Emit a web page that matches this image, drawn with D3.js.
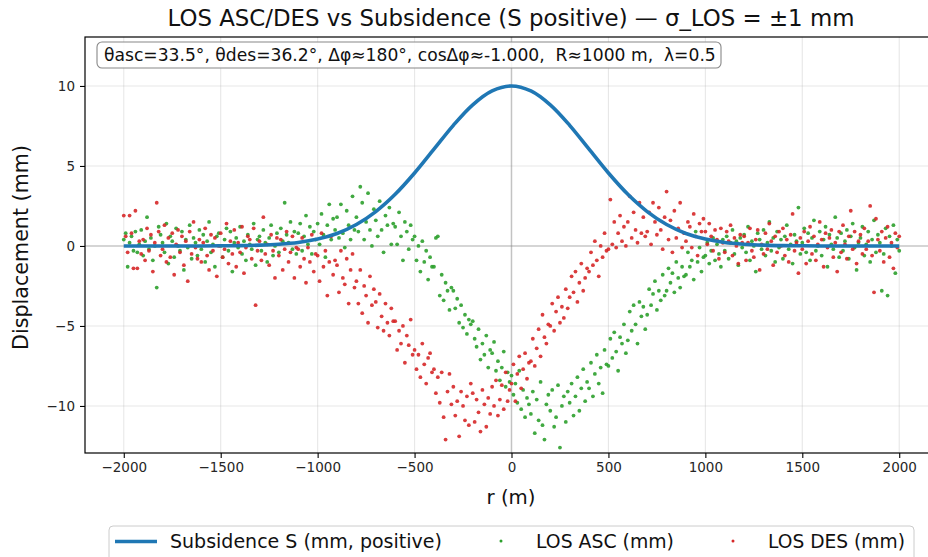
<!DOCTYPE html>
<html><head><meta charset="utf-8">
<script src="https://cdn.jsdelivr.net/npm/d3@7"></script>
<style>body{margin:0;background:#fff;} svg{display:block;font-family:"DejaVu Sans",sans-serif;}</style>
</head><body><svg id="c" width="928" height="557"></svg>
<script>
// ---- data ----
const titleText = "LOS ASC/DES vs Subsidence (S positive) — σ_LOS = ±1 mm";
const annotText = "θasc=33.5°, θdes=36.2°, Δφ≈180°, cosΔφ≈-1.000,  R≈1000 m,  λ=0.5";
const xTicks = [-2000,-1500,-1000,-500,0,500,1000,1500,2000];
const yTicks = [-10,-5,0,5,10];
const seriesNames = ["Subsidence S (mm, positive)", "LOS ASC (mm)", "LOS DES (mm)"];

// subsidence curve, r = -2000..2000 every 100 m
const rCurve = d3.range(-2000, 2001, 100);
const subsidence = [0,0,0,0,0,0.01,0.02,0.05,0.11,0.22,0.43,0.78,1.34,2.15,3.23,4.56,6.05,7.54,8.82,9.69,10,
  9.69,8.82,7.54,6.05,4.56,3.23,2.15,1.34,0.78,0.43,0.22,0.11,0.05,0.02,0.01,0,0,0,0,0];

// LOS samples, r = -2000..2000 every 10 m
const rPts = d3.range(-2000, 2001, 10);
const losAsc = [
0.4,0.8,-1.3,0.2,0.6,-0.3,0.9,-0.4,0.1,1.0,
-0.6,0.3,1.8,-0.2,0.5,-0.9,0.0,-2.6,1.2,0.7,
0.2,-0.4,1.4,-1.1,0.6,0.3,-0.7,1.1,0.0,-0.3,
0.9,-1.5,0.4,-0.1,1.3,-0.8,0.5,0.2,-0.6,1.0,
-0.2,0.7,-1.0,0.3,1.5,-0.4,0.1,-1.3,0.6,0.8,
0.0,-0.7,0.4,1.1,-0.3,0.9,-1.6,0.2,0.5,-0.1,
1.2,-0.5,0.3,-0.9,0.7,0.1,-0.2,1.4,-1.2,0.4,
0.6,-0.3,1.0,0.2,-1.0,0.5,1.3,-0.6,0.0,0.8,
-0.4,1.1,0.3,2.7,0.7,0.2,1.5,-0.2,0.9,-0.5,
0.8,1.4,-0.3,0.6,1.9,0.1,1.2,-0.5,0.9,0.4,
1.4,0.1,2.0,0.7,-0.7,1.3,2.6,0.4,1.7,1.0,
1.8,0.5,2.6,0.8,-0.1,2.2,1.3,0.4,3.1,1.0,
1.8,0.9,3.7,2.7,0.4,1.5,3.3,1.0,0.0,2.3,
1.6,0.6,2.8,1.0,-0.4,1.9,1.3,2.4,0.1,1.4,
1.2,0.1,2.1,0.6,-0.9,1.5,0.9,-0.2,1.3,0.4,
0.6,-0.9,0.0,-1.6,0.3,-1.0,-0.3,-2.1,-0.7,-1.3,
-1.3,0.5,0.6,-3.1,-1.8,-3.4,-2.3,-2.8,-4.0,-2.6,
-2.8,-3.9,-3.3,-4.8,-3.7,-5.1,-4.3,-5.5,-4.6,-4.9,
-4.7,-5.8,-6.3,-5.2,-7.1,-6.1,-6.8,-5.6,-7.6,-6.5,
-6.7,-6.0,-7.8,-7.2,-8.4,-7.6,-6.6,-8.8,-7.9,-8.5,
-8.1,-9.3,-8.6,-9.8,-7.8,-10.2,-9.0,-10.7,-9.5,-9.9,
-10.5,-9.1,-11.7,-9.6,-10.9,-8.5,-11.2,-12.1,-9.9,-9.3,
-10.3,-9.0,-11.3,-10.7,-8.7,-12.6,-10.0,-9.4,-11.0,-9.1,
-9.8,-8.6,-10.6,-9.4,-8.2,-10.3,-8.9,-7.7,-9.7,-8.5,
-8.9,-7.3,-9.4,-8.0,-6.8,-8.6,-7.6,-9.2,-6.5,-7.4,
-7.5,-5.8,-7.0,-5.4,-6.6,-7.8,-5.7,-6.1,-4.9,-6.7,
-5.9,-4.1,-5.3,-3.7,-4.9,-6.1,-3.5,-4.4,-3.8,-5.2,
-4.3,-2.7,-3.7,-3.0,-2.2,-4.0,-2.8,-3.4,-1.8,-3.1,
-2.8,-1.4,-2.3,-1.7,-2.9,-1.0,-2.0,-2.6,-1.3,-1.9,
-1.8,-0.4,-1.3,-0.9,-2.1,0.9,-1.0,-0.1,-1.6,-0.7,
-0.6,0.2,-1.1,-0.3,0.5,-0.9,0.1,-0.5,-1.3,0.4,
-0.3,0.6,-0.8,0.2,1.0,-0.5,0.3,-1.2,0.5,-0.1,
0.7,-0.4,1.2,-0.9,0.3,0.0,-1.6,0.8,0.4,-0.2,
1.0,-0.6,0.2,1.5,-0.3,0.5,-1.0,0.9,-0.1,0.4,
-0.8,0.6,1.3,-0.2,0.1,-1.1,0.7,0.3,2.4,-0.5,
0.2,1.1,-0.4,0.8,-0.9,0.5,1.6,-0.3,0.0,0.9,
-0.6,0.4,1.2,-1.3,0.7,0.1,-0.2,1.8,0.5,-0.7,
0.8,-0.3,0.3,1.0,-0.8,0.6,1.4,-0.1,-1.5,0.2,
0.5,1.2,-0.6,0.1,0.9,-1.0,0.4,1.6,-0.4,0.7,
0.2,-2.8,-0.5,1.1,-3.1,0.6,0.0,1.3,-1.7,0.4,
-0.3];
const losDes = [
1.9,0.6,-0.4,1.9,0.8,-1.4,2.2,-1.4,0.3,-0.5,
0.4,-0.9,1.1,-0.3,0.7,-1.6,0.2,2.7,0.9,-0.6,
-0.2,1.3,-1.0,0.5,-0.7,0.8,-1.8,0.1,1.0,-0.4,
0.6,-1.2,0.3,-2.2,0.9,-0.5,1.5,-0.1,-0.8,0.4,
-1.0,0.2,1.1,-0.6,-1.5,0.7,-0.3,0.5,-1.9,0.0,
0.8,-0.7,-0.2,1.4,-1.1,0.3,-0.5,1.0,-1.3,0.2,
-0.4,1.2,-1.7,-0.1,0.6,0.4,-0.8,1.1,-3.7,-0.3,
0.3,-0.9,1.8,-0.5,0.1,-1.2,0.7,-0.3,-2.0,0.5,
-0.6,0.4,-1.5,-0.2,0.9,-1.0,-0.4,0.6,-2.0,-0.1,
-0.2,-1.3,0.5,-0.8,-2.3,-0.1,-1.0,0.7,-1.6,-0.5,
-0.6,-2.2,0.8,-1.3,-0.3,-3.1,-1.0,0.6,-1.8,-0.9,
-1.2,-2.9,-0.3,-2.0,-2.4,-0.8,-3.6,-1.5,-0.5,-2.6,
-2.2,-3.6,-1.5,-4.2,-2.5,-3.1,-4.8,-1.9,-3.7,-2.7,
-3.5,-5.1,-3.0,-4.4,-5.3,-3.6,-4.8,-5.6,-3.9,-4.7,
-4.7,-6.5,-5.3,-6.1,-5.0,-7.3,-5.6,-6.2,-4.6,-6.8,
-6.5,-7.7,-6.8,-8.2,-6.1,-7.4,-8.6,-7.0,-6.7,-7.9,
-7.7,-9.2,-8.2,-9.8,-7.9,-10.7,-12.1,-9.1,-8.0,-9.9,
-8.8,-10.6,-9.7,-11.9,-9.1,-10.0,-10.9,-9.4,-11.2,-8.6,
-9.2,-11.0,-9.6,-10.4,-11.6,-9.0,-9.9,-11.3,-9.5,-10.5,
-8.8,-10.0,-8.4,-10.6,-9.6,-8.7,-10.2,-7.9,-9.7,-9.0,
-8.6,-7.4,-9.7,-8.0,-6.9,-8.9,-7.7,-6.7,-8.3,-7.3,
-7.2,-5.8,-7.5,-6.4,-5.2,-6.9,-4.3,-5.7,-6.1,-4.9,
-5.0,-3.6,-5.3,-4.1,-3.2,-4.8,-3.8,-4.5,-2.7,-3.9,
-3.2,-1.9,-2.9,-1.6,-3.5,-2.3,-1.1,-2.8,-2.0,-1.4,
-1.6,-0.4,-1.2,0.3,-0.9,-1.9,0.0,-0.7,0.8,-0.3,
-0.2,2.9,0.1,1.5,-0.1,0.8,1.9,0.3,1.2,0.0,
1.5,3.1,0.5,2.1,1.0,0.2,2.7,0.8,1.8,0.6,
0.9,2.1,0.1,2.7,1.5,0.7,2.4,1.0,-0.2,1.8,
3.4,0.4,1.6,-0.4,2.2,0.5,1.1,2.7,-0.1,0.8,
0.3,1.5,1.2,-0.1,2.0,0.6,-0.6,1.4,0.9,1.7,
0.9,0.1,1.4,0.6,-0.3,1.0,0.4,-0.8,1.1,0.2,
-0.4,0.9,0.3,1.3,-0.6,0.5,0.0,-1.1,0.7,0.2,
0.6,-0.9,0.2,1.1,-0.3,-0.7,0.4,1.0,-1.5,0.1,
-0.5,0.8,-0.2,1.4,0.3,-1.2,0.6,-0.4,0.9,0.0,
1.1,-0.6,0.4,-1.0,0.7,2.0,-0.3,0.2,-1.7,0.5,
-0.2,0.9,-1.1,0.3,1.2,-0.5,0.6,-0.9,0.1,1.5,
0.4,-1.3,0.8,-0.1,0.5,1.0,-0.7,0.2,-1.6,0.9,
-0.4,1.3,0.1,-0.8,0.6,2.2,-0.2,0.9,-1.1,0.3,
0.7,-0.5,1.1,-0.2,0.3,2.5,-0.6,-2.9,1.7,0.4,
-0.3,0.9,-1.0,0.5,1.2,-0.7,0.2,-1.4,0.8,-0.1,
0.6];

// ---- layout ----
const colBlue = "#1f77b4", colGreen = "#2ca02c", colRed = "#d62728";
const P = {l: 85, t: 37, r: 938, b: 453};
const svg = d3.select("#c");
const x = d3.scaleLinear().domain([-2200, 2200]).range([P.l, P.r]);
const y = d3.scaleLinear().domain([-12.94, 13.06]).range([P.b, P.t]);
const fmt = v => String(v).replace("-", "\u2212");

function fit(sel, target) {
  const w = sel.node().getComputedTextLength();
  const fs = parseFloat(sel.attr("font-size"));
  sel.attr("font-size", (fs * target / w).toFixed(2));
}

svg.append("defs").append("clipPath").attr("id", "clip")
  .append("rect").attr("x", P.l).attr("y", P.t).attr("width", P.r - P.l).attr("height", P.b - P.t);

// grid
const g = svg.append("g");
g.selectAll("line.gx").data(xTicks).join("line")
  .attr("x1", d => x(d)).attr("x2", d => x(d)).attr("y1", P.t).attr("y2", P.b)
  .attr("stroke", "#b0b0b0").attr("stroke-opacity", 0.3).attr("stroke-width", 1.1);
g.selectAll("line.gy").data(yTicks).join("line")
  .attr("y1", d => y(d)).attr("y2", d => y(d)).attr("x1", P.l).attr("x2", P.r)
  .attr("stroke", "#b0b0b0").attr("stroke-opacity", 0.3).attr("stroke-width", 1.1);
// zero lines
g.append("line").attr("x1", x(0)).attr("x2", x(0)).attr("y1", P.t).attr("y2", P.b)
  .attr("stroke", "#808080").attr("stroke-opacity", 0.35).attr("stroke-width", 1.6);
g.append("line").attr("y1", y(0)).attr("y2", y(0)).attr("x1", P.l).attr("x2", P.r)
  .attr("stroke", "#808080").attr("stroke-opacity", 0.35).attr("stroke-width", 1.6);

const plot = svg.append("g").attr("clip-path", "url(#clip)");
plot.append("g").selectAll("circle").data(losAsc).join("circle")
  .attr("cx", (d, i) => x(rPts[i])).attr("cy", d => y(d)).attr("r", 1.9)
  .attr("fill", colGreen).attr("fill-opacity", 0.9);
plot.append("g").selectAll("circle").data(losDes).join("circle")
  .attr("cx", (d, i) => x(rPts[i])).attr("cy", d => y(d)).attr("r", 1.9)
  .attr("fill", colRed).attr("fill-opacity", 0.9);
const line = d3.line().x((d, i) => x(rCurve[i])).y(d => y(d)).curve(d3.curveCatmullRom.alpha(0.5));
plot.append("path").attr("d", line(subsidence)).attr("fill", "none")
  .attr("stroke", colBlue).attr("stroke-width", 3.6);

// frame
svg.append("rect").attr("x", P.l).attr("y", P.t).attr("width", P.r - P.l).attr("height", P.b - P.t)
  .attr("fill", "none").attr("stroke", "#000").attr("stroke-width", 1.2);

// axes
const xa = svg.append("g").attr("transform", `translate(0,${P.b})`)
  .call(d3.axisBottom(x).tickValues(xTicks).tickFormat(fmt).tickSize(5).tickSizeOuter(0).tickPadding(4));
const ya = svg.append("g").attr("transform", `translate(${P.l},0)`)
  .call(d3.axisLeft(y).tickValues(yTicks).tickFormat(fmt).tickSize(5).tickSizeOuter(0).tickPadding(5));
[xa, ya].forEach(a => {
  a.select(".domain").remove();
  a.selectAll(".tick line").attr("stroke", "#000").attr("stroke-width", 1.1);
  a.selectAll(".tick text").attr("fill", "#262626").attr("font-size", 13.5).attr("font-family", "DejaVu Sans");
});

// title
const t = svg.append("text").attr("x", 511).attr("y", 26).attr("text-anchor", "middle")
  .attr("font-size", 20).attr("fill", "#111").text(titleText);
fit(t, 687);

// annotation
const ag = svg.append("g");
ag.append("rect").attr("x", 97).attr("y", 42).attr("width", 624).attr("height", 26).attr("rx", 5)
  .attr("fill", "#fff").attr("fill-opacity", 0.85).attr("stroke", "#888").attr("stroke-width", 1.1);
const at = ag.append("text").attr("x", 104).attr("y", 60.5).attr("font-size", 15).attr("fill", "#111")
  .attr("xml:space", "preserve").style("white-space", "pre").text(annotText);
fit(at, 612);

// axis labels
const xl = svg.append("text").attr("x", 511).attr("y", 504).attr("text-anchor", "middle")
  .attr("font-size", 20).attr("fill", "#111").text("r (m)");
fit(xl, 49);
const yl = svg.append("text").attr("transform", "translate(28,247.5) rotate(-90)").attr("text-anchor", "middle")
  .attr("font-size", 20).attr("fill", "#111").text("Displacement (mm)");
fit(yl, 205);

// legend
const lg = svg.append("g");
lg.append("rect").attr("x", 109).attr("y", 526).attr("width", 805).attr("height", 50).attr("rx", 4)
  .attr("fill", "#fff").attr("stroke", "#cccccc").attr("stroke-width", 1);
lg.append("line").attr("x1", 115).attr("x2", 157).attr("y1", 541.5).attr("y2", 541.5)
  .attr("stroke", colBlue).attr("stroke-width", 3.6);
const lt1 = lg.append("text").attr("x", 170).attr("y", 548).attr("font-size", 18).attr("fill", "#111").text(seriesNames[0]);
fit(lt1, 272);
lg.append("circle").attr("cx", 501).attr("cy", 541).attr("r", 1.5).attr("fill", colGreen);
const lt2 = lg.append("text").attr("x", 536).attr("y", 548).attr("font-size", 18).attr("fill", "#111").text(seriesNames[1]);
fit(lt2, 138);
lg.append("circle").attr("cx", 733).attr("cy", 541).attr("r", 1.5).attr("fill", colRed);
const lt3 = lg.append("text").attr("x", 768).attr("y", 548).attr("font-size", 18).attr("fill", "#111").text(seriesNames[2]);
fit(lt3, 137);
</script></body></html>
